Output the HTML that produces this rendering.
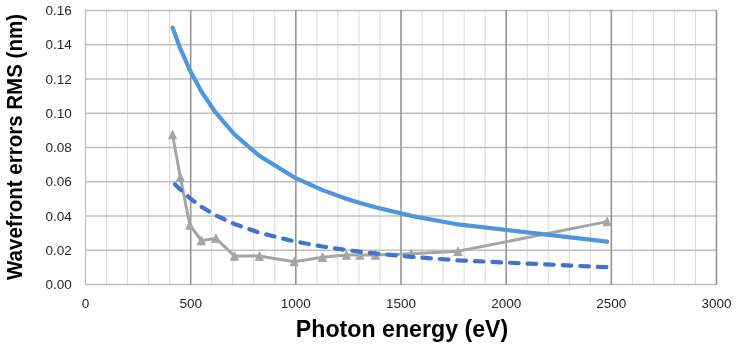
<!DOCTYPE html>
<html><head><meta charset="utf-8"><style>
html,body{margin:0;padding:0;background:#fff;}
body{width:736px;height:350px;overflow:hidden;font-family:"Liberation Sans",sans-serif;}
svg{display:block;will-change:transform;}
</style></head><body>
<svg width="736" height="350" viewBox="0 0 736 350">
<rect width="736" height="350" fill="#fff"/>
<line x1="106.53" y1="10.50" x2="106.53" y2="284.50" stroke="#d9d9d9" stroke-width="1"/>
<line x1="127.57" y1="10.50" x2="127.57" y2="284.50" stroke="#d9d9d9" stroke-width="1"/>
<line x1="148.60" y1="10.50" x2="148.60" y2="284.50" stroke="#d9d9d9" stroke-width="1"/>
<line x1="169.63" y1="10.50" x2="169.63" y2="284.50" stroke="#d9d9d9" stroke-width="1"/>
<line x1="211.70" y1="10.50" x2="211.70" y2="284.50" stroke="#d9d9d9" stroke-width="1"/>
<line x1="232.73" y1="10.50" x2="232.73" y2="284.50" stroke="#d9d9d9" stroke-width="1"/>
<line x1="253.77" y1="10.50" x2="253.77" y2="284.50" stroke="#d9d9d9" stroke-width="1"/>
<line x1="274.80" y1="10.50" x2="274.80" y2="284.50" stroke="#d9d9d9" stroke-width="1"/>
<line x1="316.87" y1="10.50" x2="316.87" y2="284.50" stroke="#d9d9d9" stroke-width="1"/>
<line x1="337.90" y1="10.50" x2="337.90" y2="284.50" stroke="#d9d9d9" stroke-width="1"/>
<line x1="358.93" y1="10.50" x2="358.93" y2="284.50" stroke="#d9d9d9" stroke-width="1"/>
<line x1="379.97" y1="10.50" x2="379.97" y2="284.50" stroke="#d9d9d9" stroke-width="1"/>
<line x1="422.03" y1="10.50" x2="422.03" y2="284.50" stroke="#d9d9d9" stroke-width="1"/>
<line x1="443.07" y1="10.50" x2="443.07" y2="284.50" stroke="#d9d9d9" stroke-width="1"/>
<line x1="464.10" y1="10.50" x2="464.10" y2="284.50" stroke="#d9d9d9" stroke-width="1"/>
<line x1="485.13" y1="10.50" x2="485.13" y2="284.50" stroke="#d9d9d9" stroke-width="1"/>
<line x1="527.20" y1="10.50" x2="527.20" y2="284.50" stroke="#d9d9d9" stroke-width="1"/>
<line x1="548.23" y1="10.50" x2="548.23" y2="284.50" stroke="#d9d9d9" stroke-width="1"/>
<line x1="569.27" y1="10.50" x2="569.27" y2="284.50" stroke="#d9d9d9" stroke-width="1"/>
<line x1="590.30" y1="10.50" x2="590.30" y2="284.50" stroke="#d9d9d9" stroke-width="1"/>
<line x1="632.37" y1="10.50" x2="632.37" y2="284.50" stroke="#d9d9d9" stroke-width="1"/>
<line x1="653.40" y1="10.50" x2="653.40" y2="284.50" stroke="#d9d9d9" stroke-width="1"/>
<line x1="674.43" y1="10.50" x2="674.43" y2="284.50" stroke="#d9d9d9" stroke-width="1"/>
<line x1="695.47" y1="10.50" x2="695.47" y2="284.50" stroke="#d9d9d9" stroke-width="1"/>
<line x1="85.00" y1="284.50" x2="717.00" y2="284.50" stroke="#bfbfbf" stroke-width="1.3"/>
<line x1="85.00" y1="250.25" x2="717.00" y2="250.25" stroke="#bfbfbf" stroke-width="1.3"/>
<line x1="85.00" y1="216.00" x2="717.00" y2="216.00" stroke="#bfbfbf" stroke-width="1.3"/>
<line x1="85.00" y1="181.75" x2="717.00" y2="181.75" stroke="#bfbfbf" stroke-width="1.3"/>
<line x1="85.00" y1="147.50" x2="717.00" y2="147.50" stroke="#bfbfbf" stroke-width="1.3"/>
<line x1="85.00" y1="113.25" x2="717.00" y2="113.25" stroke="#bfbfbf" stroke-width="1.3"/>
<line x1="85.00" y1="79.00" x2="717.00" y2="79.00" stroke="#bfbfbf" stroke-width="1.3"/>
<line x1="85.00" y1="44.75" x2="717.00" y2="44.75" stroke="#bfbfbf" stroke-width="1.3"/>
<line x1="85.00" y1="10.50" x2="717.00" y2="10.50" stroke="#bfbfbf" stroke-width="1.3"/>
<line x1="85.50" y1="10.00" x2="85.50" y2="285.00" stroke="#bfbfbf" stroke-width="1.3"/>
<line x1="190.67" y1="10.00" x2="190.67" y2="285.00" stroke="#959595" stroke-width="1.6"/>
<line x1="295.83" y1="10.00" x2="295.83" y2="285.00" stroke="#959595" stroke-width="1.6"/>
<line x1="401.00" y1="10.00" x2="401.00" y2="285.00" stroke="#959595" stroke-width="1.6"/>
<line x1="506.17" y1="10.00" x2="506.17" y2="285.00" stroke="#959595" stroke-width="1.6"/>
<line x1="611.33" y1="10.00" x2="611.33" y2="285.00" stroke="#959595" stroke-width="1.6"/>
<line x1="716.50" y1="10.00" x2="716.50" y2="285.00" stroke="#959595" stroke-width="1.6"/>
<polyline points="172.58,134.66 180.36,177.47 189.83,225.08 201.39,240.49 215.91,238.43 234.42,256.07 259.45,256.07 294.15,261.72 322.55,257.27 346.31,255.05 359.99,255.05 375.34,255.05 411.52,253.68 458.00,251.28 607.13,221.65" fill="none" stroke="#a5a5a5" stroke-width="3" stroke-linejoin="round" stroke-linecap="round"/>
<path d="M172.58,130.56 L176.48,138.76 L168.68,138.76 Z" fill="#a5a5a5" stroke="#a5a5a5" stroke-width="1.1" stroke-linejoin="round"/>
<path d="M180.36,173.37 L184.26,181.57 L176.46,181.57 Z" fill="#a5a5a5" stroke="#a5a5a5" stroke-width="1.1" stroke-linejoin="round"/>
<path d="M189.83,220.98 L193.73,229.18 L185.93,229.18 Z" fill="#a5a5a5" stroke="#a5a5a5" stroke-width="1.1" stroke-linejoin="round"/>
<path d="M201.39,236.39 L205.29,244.59 L197.49,244.59 Z" fill="#a5a5a5" stroke="#a5a5a5" stroke-width="1.1" stroke-linejoin="round"/>
<path d="M215.91,234.33 L219.81,242.53 L212.01,242.53 Z" fill="#a5a5a5" stroke="#a5a5a5" stroke-width="1.1" stroke-linejoin="round"/>
<path d="M234.42,251.97 L238.32,260.17 L230.52,260.17 Z" fill="#a5a5a5" stroke="#a5a5a5" stroke-width="1.1" stroke-linejoin="round"/>
<path d="M259.45,251.97 L263.35,260.17 L255.55,260.17 Z" fill="#a5a5a5" stroke="#a5a5a5" stroke-width="1.1" stroke-linejoin="round"/>
<path d="M294.15,257.62 L298.05,265.82 L290.25,265.82 Z" fill="#a5a5a5" stroke="#a5a5a5" stroke-width="1.1" stroke-linejoin="round"/>
<path d="M322.55,253.17 L326.45,261.37 L318.65,261.37 Z" fill="#a5a5a5" stroke="#a5a5a5" stroke-width="1.1" stroke-linejoin="round"/>
<path d="M346.31,250.95 L350.21,259.15 L342.41,259.15 Z" fill="#a5a5a5" stroke="#a5a5a5" stroke-width="1.1" stroke-linejoin="round"/>
<path d="M359.99,250.95 L363.88,259.15 L356.09,259.15 Z" fill="#a5a5a5" stroke="#a5a5a5" stroke-width="1.1" stroke-linejoin="round"/>
<path d="M375.34,250.95 L379.24,259.15 L371.44,259.15 Z" fill="#a5a5a5" stroke="#a5a5a5" stroke-width="1.1" stroke-linejoin="round"/>
<path d="M411.52,249.58 L415.42,257.78 L407.62,257.78 Z" fill="#a5a5a5" stroke="#a5a5a5" stroke-width="1.1" stroke-linejoin="round"/>
<path d="M458.00,247.18 L461.90,255.38 L454.10,255.38 Z" fill="#a5a5a5" stroke="#a5a5a5" stroke-width="1.1" stroke-linejoin="round"/>
<path d="M607.13,217.55 L611.03,225.75 L603.23,225.75 Z" fill="#a5a5a5" stroke="#a5a5a5" stroke-width="1.1" stroke-linejoin="round"/>
<polyline points="172.58,27.62 180.36,48.70 189.83,70.09 201.39,91.49 215.91,112.97 234.42,134.29 259.45,155.91 294.15,177.30 322.55,190.14 346.31,198.74 359.99,203.01 375.34,207.33 411.52,215.89 458.00,224.45 607.13,241.62" fill="none" stroke="#4f96dc" stroke-width="4.2" stroke-linejoin="round" stroke-linecap="round"/>
<polyline points="172.58,182.09 180.36,189.57 189.83,198.18 201.39,206.80 215.91,215.45 234.42,224.03 259.45,232.73 294.15,241.34 322.55,246.51 346.31,249.97 359.99,251.69 375.34,253.43 411.52,256.88 458.00,260.33 607.13,267.24" fill="none" stroke="#4274cf" stroke-width="4.2" stroke-linejoin="round" stroke-linecap="round" stroke-dasharray="8.6 8.97" stroke-dashoffset="-3.3"/>
<text x="71.8" y="289.00" text-anchor="end" font-family="Liberation Sans, sans-serif" font-size="13.5" fill="#262626">0.00</text>
<text x="71.8" y="254.75" text-anchor="end" font-family="Liberation Sans, sans-serif" font-size="13.5" fill="#262626">0.02</text>
<text x="71.8" y="220.50" text-anchor="end" font-family="Liberation Sans, sans-serif" font-size="13.5" fill="#262626">0.04</text>
<text x="71.8" y="186.25" text-anchor="end" font-family="Liberation Sans, sans-serif" font-size="13.5" fill="#262626">0.06</text>
<text x="71.8" y="152.00" text-anchor="end" font-family="Liberation Sans, sans-serif" font-size="13.5" fill="#262626">0.08</text>
<text x="71.8" y="117.75" text-anchor="end" font-family="Liberation Sans, sans-serif" font-size="13.5" fill="#262626">0.10</text>
<text x="71.8" y="83.50" text-anchor="end" font-family="Liberation Sans, sans-serif" font-size="13.5" fill="#262626">0.12</text>
<text x="71.8" y="49.25" text-anchor="end" font-family="Liberation Sans, sans-serif" font-size="13.5" fill="#262626">0.14</text>
<text x="71.8" y="15.00" text-anchor="end" font-family="Liberation Sans, sans-serif" font-size="13.5" fill="#262626">0.16</text>
<text x="85.50" y="307.5" text-anchor="middle" font-family="Liberation Sans, sans-serif" font-size="13.5" fill="#262626">0</text>
<text x="190.67" y="307.5" text-anchor="middle" font-family="Liberation Sans, sans-serif" font-size="13.5" fill="#262626">500</text>
<text x="295.83" y="307.5" text-anchor="middle" font-family="Liberation Sans, sans-serif" font-size="13.5" fill="#262626">1000</text>
<text x="401.00" y="307.5" text-anchor="middle" font-family="Liberation Sans, sans-serif" font-size="13.5" fill="#262626">1500</text>
<text x="506.17" y="307.5" text-anchor="middle" font-family="Liberation Sans, sans-serif" font-size="13.5" fill="#262626">2000</text>
<text x="611.33" y="307.5" text-anchor="middle" font-family="Liberation Sans, sans-serif" font-size="13.5" fill="#262626">2500</text>
<text x="716.50" y="307.5" text-anchor="middle" font-family="Liberation Sans, sans-serif" font-size="13.5" fill="#262626">3000</text>
<text x="295.8" y="337.2" font-family="Liberation Sans, sans-serif" font-weight="bold" font-size="23.5" fill="#000" textLength="212.5" lengthAdjust="spacingAndGlyphs">Photon energy (eV)</text>
<text transform="translate(21.8,280) rotate(-90)" x="0" y="0" font-family="Liberation Sans, sans-serif" font-weight="bold" font-size="21.2" fill="#000" textLength="266" lengthAdjust="spacingAndGlyphs">Wavefront errors RMS (nm)</text>
</svg>
</body></html>
